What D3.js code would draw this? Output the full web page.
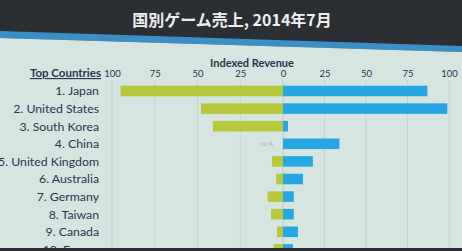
<!DOCTYPE html>
<html><head><meta charset="utf-8">
<script src="https://cdn.jsdelivr.net/npm/d3@7"></script>
<style>html,body{margin:0;padding:0;background:#2b2e33;}svg{display:block;}</style>
</head><body>
<svg id="chart" width="462" height="251"></svg>
<script>
const title = "国別ゲーム売上, 2014年7月";
const countries = ["1. Japan","2. United States","3. South Korea","4. China","5. United Kingdom","6. Australia","7. Germany","8. Taiwan","9. Canada","10. France"];
const leftValues = [95, 48, 41, null, 6.5, 4, 9, 7, 3.5, 5.5];
const rightValues = [87, 99, 3, 34, 18, 12, 6.5, 6.5, 9, 6];
const tickValues = [0, 25, 50, 75, 100];
const axisTitle = "Indexed Revenue";
const listTitle = "Top Countries";
const naLabel = "N/A";

const svg = d3.select("#chart");
const font = "Lato, 'Open Sans', sans-serif";
const ink = "#27354f";

// slide background
svg.append("rect").attr("width",462).attr("height",251).attr("fill","#2b2e33");
svg.append("polygon").attr("points","0,31 462,46 462,52 0,38").attr("fill","#3c8fc6");
svg.append("polygon").attr("points","0,38 462,52 462,248 0,248").attr("fill","#d7e5e1");

svg.append("text").attr("x",232).attr("y",26).attr("text-anchor","middle")
  .attr("font-family","'Noto Sans CJK JP', sans-serif").attr("font-weight","bold")
  .attr("font-size",16).attr("fill","#eef0f0").text(title);

const xl = d3.scaleLinear().domain([0,100]).range([283,112]);
const xr = d3.scaleLinear().domain([0,100]).range([283,449]);
const y = d3.scaleBand().domain(countries).range([82.2,258.2]).paddingInner(0.4).paddingOuter(0.2);

const g = svg.append("g");
// gridlines
tickValues.forEach(t=>{
  [xl(t), xr(t)].forEach(x=>{
    g.append("line").attr("x1",x).attr("x2",x).attr("y1",80).attr("y2",248)
      .attr("stroke","#c3d5d2").attr("stroke-width",1);
  });
});

// axes (tick labels only)
const axL = d3.axisTop(xl).tickValues(tickValues.slice(1)).tickSize(0).tickPadding(0);
const axR = d3.axisTop(xr).tickValues(tickValues).tickSize(0).tickPadding(0);
[axL, axR].forEach(ax=>{
  const a = svg.append("g").attr("transform","translate(0,77)").call(ax);
  a.select(".domain").remove();
  a.selectAll("text").attr("font-family",font).attr("font-size",9.5).attr("fill",ink);
});

svg.append("text").attr("x",252).attr("y",67).attr("text-anchor","middle")
  .attr("font-family",font).attr("font-weight","bold").attr("font-size",11)
  .attr("fill",ink).text(axisTitle);

svg.append("text").attr("x",101).attr("y",77).attr("text-anchor","end")
  .attr("font-family",font).attr("font-weight","bold").attr("font-size",11.5)
  .attr("text-decoration","underline").attr("fill",ink).text(listTitle);

// bars
g.selectAll(".bl").data(countries).enter().append("rect")
  .filter((d,i)=>leftValues[i]!=null)
  .attr("x",(d,i)=>xl(leftValues[countries.indexOf(d)]))
  .attr("y",d=>y(d)).attr("height",y.bandwidth())
  .attr("width",d=>xl(0)-xl(leftValues[countries.indexOf(d)]))
  .attr("fill","#b6c83c");
g.selectAll(".br").data(countries).enter().append("rect")
  .attr("x",xr(0)).attr("y",d=>y(d)).attr("height",y.bandwidth())
  .attr("width",(d,i)=>xr(rightValues[i])-xr(0))
  .attr("fill","#26a7e3");

countries.forEach((c,i)=>{
  if(leftValues[i]==null){
    g.append("text").attr("x",xl(0)-10).attr("y",y(c)+y.bandwidth()/2+2.5)
      .attr("text-anchor","end").attr("font-family",font).attr("font-size",6.5)
      .attr("fill","#a4b4b4").text(naLabel);
  }
});

// country labels
g.selectAll(".lab").data(countries).enter().append("text")
  .attr("x",99).attr("y",d=>y(d)+y.bandwidth()/2+4.3)
  .attr("text-anchor","end").attr("font-family",font).attr("font-size",12.3)
  .attr("fill",ink).text(d=>d);

// bottom frame
svg.append("rect").attr("x",0).attr("y",248).attr("width",462).attr("height",3).attr("fill","#2b2e33");
</script>
</body></html>
